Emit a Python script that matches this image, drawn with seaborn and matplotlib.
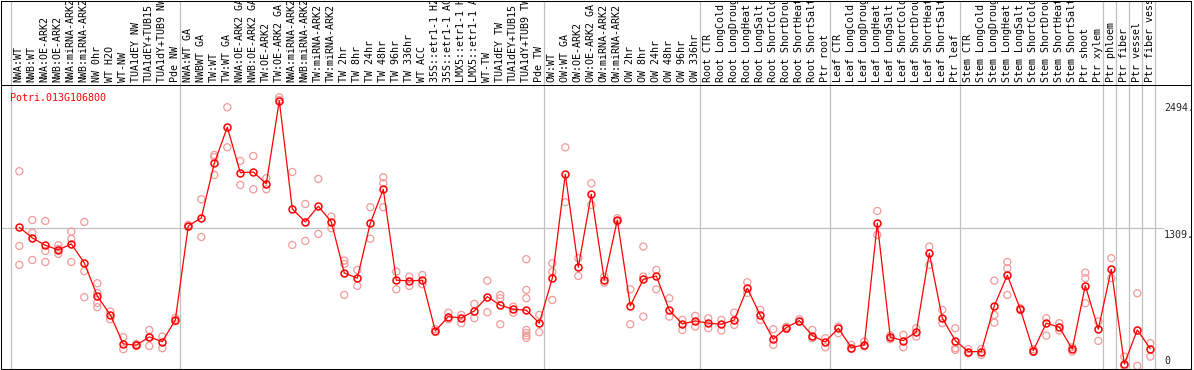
import matplotlib
matplotlib.use("Agg")
import matplotlib.pyplot as plt
import seaborn as sns
import numpy as np
import pandas as pd

gene = "Potri.013G106800"

labels = [
    "NWA:WT", "NWB:WT", "NWA:OE-ARK2", "NWB:OE-ARK2", "NWA:miRNA-ARK2", "NWB:miRNA-ARK2",
    "NW 0hr", "WT H2O", "WT-NW", "TUA1dEY NW", "TUA1dEY+TUB15", "TUA1dY+TUB9 NW", "Pde NW",
    "NWA:WT GA", "NWBWT GA", "TW:WT", "TW:WT GA", "NWA:OE-ARK2 GA", "NWB:OE-ARK2 GA",
    "TW:OE-ARK2", "TW:OE-ARK2 GA", "NWA:miRNA-ARK2", "NWB:miRNA-ARK2", "TW:miRNA-ARK2",
    "TW:miRNA-ARK2", "TW 2hr", "TW 8hr", "TW 24hr", "TW 48hr", "TW 96hr", "TW 336hr",
    "WT ACC", "35S::etr1-1 H2", "35S::etr1-1 AC", "LMX5::etr1-1 H", "LMX5::etr1-1 A",
    "WT-TW", "TUA1dEY TW", "TUA1dEY+TUB15", "TUA1dY+TUB9 TW", "Pde TW",
    "OW:WT", "OW:WT GA", "OW:OE-ARK2", "OW:OE-ARK2 GA", "OW:miRNA-ARK2", "OW:miRNA-ARK2",
    "OW 2hr", "OW 8hr", "OW 24hr", "OW 48hr", "OW 96hr", "OW 336hr",
    "Root CTR", "Root LongCold", "Root LongDroug", "Root LongHeat", "Root LongSalt",
    "Root ShortCold", "Root ShortDrou", "Root ShortHeat", "Root ShortSalt", "Ptr root",
    "Leaf CTR", "Leaf LongCold", "Leaf LongDroug", "Leaf LongHeat", "Leaf LongSalt",
    "Leaf ShortCold", "Leaf ShortDrou", "Leaf ShortHeat", "Leaf ShortSalt", "Ptr leaf",
    "Stem CTR", "Stem LongCold", "Stem LongDroug", "Stem LongHeat", "Stem LongSalt",
    "Stem ShortCold", "Stem ShortDrou", "Stem ShortHeat", "Stem ShortSalt", "Ptr shoot",
    "Ptr xylem", "Ptr phloem", "Ptr fiber", "Ptr vessel", "Ptr fiber vess",
]

means = [
    1315, 1216, 1148, 1104, 1160, 983, 676, 499, 229, 217,
    294, 250, 452, 1328, 1402, 1911, 2247, 1824, 1830, 1719,
    2494, 1486, 1365, 1511, 1365, 890, 841, 1353, 1669, 822,
    816, 822, 350, 483, 471, 536, 669, 589, 552, 543,
    422, 841, 1809, 943, 1623, 825, 1383, 583, 831, 862,
    543, 415, 443, 422, 412, 452, 748, 496, 273, 381,
    446, 306, 248, 375, 195, 220, 1353, 291, 260, 341,
    1073, 468, 260, 157, 157, 583, 869, 552, 167, 422,
    385, 180, 772, 366, 924, 43, 359, 185,
]

reps = [
    [1837, 1141, 965], [1383, 1265, 1011], [1374, 1095, 992], [1148, 1067, 1114],
    [1275, 1207, 992], [1365, 906, 664], [794, 701, 611, 571], [530, 459],
    [291, 180], [220, 229, 210], [359, 210, 294], [297, 189], [437, 471],
    [1337, 1318], [1576, 1225], [1989, 1970, 1802], [2433, 2060], [1933, 1709],
    [1979, 1669], [1772, 1669], [2526, 2501], [1830, 1151], [1532, 1188],
    [1765, 1253], [1414, 1306], [1005, 974, 685], [918, 769], [1502, 1209],
    [1781, 1725, 1502], [902, 738], [856, 769], [871, 785], [366, 341],
    [520, 459], [499, 422], [601, 468], [818, 524], [685, 654, 412], [576, 520],
    [1018, 732, 654, 359, 331, 308, 285], [499, 338], [980, 902, 639],
    [2060, 1548], [1027, 862], [1725, 1523], [800, 853], [1399, 1368],
    [738, 412], [1135, 856, 483], [918, 738], [654, 483], [452, 359],
    [490, 390], [468, 375], [452, 353], [520, 406], [803, 704], [546, 452],
    [366, 220], [390, 369], [459, 434], [359, 282], [282, 198], [390, 329],
    [220, 182], [250, 206], [1467, 1244], [273, 308], [313, 198], [375, 297],
    [1135, 964], [546, 422], [375, 189, 173], [180, 142], [180, 127],
    [818, 499, 427], [992, 933, 685], [561, 543], [180, 155], [468, 306],
    [422, 353], [198, 157], [893, 841, 608], [437, 257], [1027, 841],
    [111, 24], [701, 24], [236, 111],
]

group_starts = [0, 13, 41, 53, 63, 73, 84, 85, 86, 87, 88]
ytick_vals = [0, 1309, 2494]

sns.set_style("white")
plt.rcParams['font.family'] = ['DejaVu Sans Mono']
plt.rcParams['font.size'] = 7.2

W, H = 1194, 370
fig = plt.figure(figsize=(W / 100, H / 100), dpi=100)


def px_box(x0, y0, x1, y1):
    return [x0 / W, 1 - y1 / H, (x1 - x0) / W, (y1 - y0) / H]


ax = fig.add_axes(px_box(1, 85, 1191, 368.5))
hd = fig.add_axes(px_box(1, 0.5, 1191, 85), sharex=ax)

xl = ((1 - 19.3) / 13, (1191 - 19.3) / 13)
ax.set_xlim(*xl)
ax.set_ylim(0, 2640)
hd.set_ylim(0, 1)

grid_c = '#c0c0c0'
for k in group_starts:
    ax.axvline(k - 0.66, color=grid_c, lw=0.9, zorder=0)
    hd.axvline(k - 0.66, color=grid_c, lw=0.9, zorder=0)
ax.plot([xl[0], (1163 - 19.3) / 13], [ytick_vals[1]] * 2, color=grid_c, lw=0.9, zorder=0)

# replicate samples
rep_df = pd.DataFrame([(i, v) for i, r in enumerate(reps) for v in r], columns=['x', 'y'])
sns.scatterplot(data=rep_df, x='x', y='y', ax=ax, marker='o', s=26, fc='none',
                ec='#f29a9a', linewidth=0.9, legend=False, zorder=2)

# mean line
mean_df = pd.DataFrame({'x': np.arange(len(means)), 'y': means})
sns.lineplot(data=mean_df, x='x', y='y', ax=ax, color='red', lw=0.9, marker='o', ms=5,
             mfc='none', mec='red', mew=1.1, zorder=3, legend=False)

ax.set_xticks([])
ax.set_yticks([])
ax.set_xlabel('')
ax.set_ylabel('')
hd.set_yticks([])
hd.tick_params(labelbottom=False, bottom=False)

for a in (ax, hd):
    for s in a.spines.values():
        s.set_color('black')
        s.set_linewidth(0.75)
        s.set_visible(True)
hd.spines['bottom'].set_visible(False)

# header labels
for i, lab in enumerate(labels):
    hd.text(i - 0.06, 0.035, lab, rotation=90, ha='center', va='bottom',
            transform=hd.get_xaxis_transform(), clip_on=True, color='black')

# y labels on the right
xt = (1164 - 19.3) / 13
for v in ytick_vals:
    if v == 0:
        ax.annotate("0", xy=(xt, v), xytext=(0, 2), textcoords='offset points',
                    ha='left', va='bottom')
    else:
        ax.annotate(f"{v}.", xy=(xt, v), xytext=(0, -1.5), textcoords='offset points',
                    ha='left', va='top')

ax.text(9 / 1190, (368.5 - 92.5) / 283.5, gene, color='red', ha='left', va='top',
        transform=ax.transAxes)

fig.savefig('out.png', dpi=100)
